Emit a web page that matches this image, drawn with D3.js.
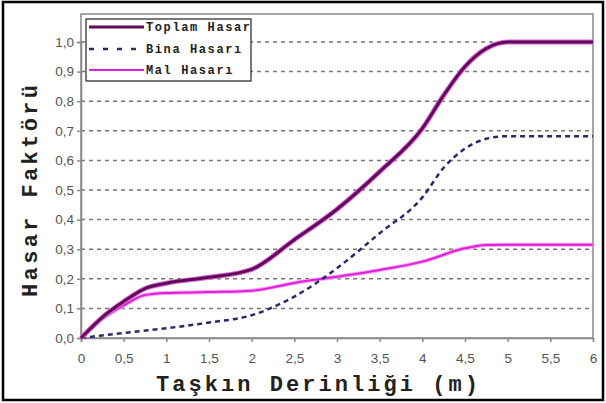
<!DOCTYPE html>
<html><head><meta charset="utf-8">
<script src="https://cdn.jsdelivr.net/npm/d3@7"></script>
<style>body{margin:0;background:#fff}</style>
</head><body>
<svg id="c" width="606" height="403"></svg>
<script>
const seriesNames = ["Toplam Hasar", "Bina Hasarı", "Mal Hasarı"];
const toplamX = [0, 0.25, 0.5, 0.75, 1, 1.5, 2, 2.5, 3, 3.5, 4, 4.25, 4.5, 4.75, 5, 6];
const toplamY = [0, 0.07, 0.123, 0.167, 0.185, 0.205, 0.232, 0.332, 0.435, 0.562, 0.708, 0.82, 0.917, 0.978, 1.0, 1.0];
const binaX = [0, 0.5, 1, 1.5, 2, 2.5, 3, 3.5, 4, 4.25, 4.5, 4.75, 5, 6];
const binaY = [0, 0.017, 0.033, 0.052, 0.077, 0.14, 0.236, 0.354, 0.475, 0.575, 0.64, 0.673, 0.682, 0.682];
const malX = [0, 0.25, 0.5, 0.75, 1, 1.5, 2, 2.5, 3, 3.5, 4, 4.5, 4.75, 5, 6];
const malY = [0, 0.065, 0.11, 0.145, 0.152, 0.155, 0.16, 0.186, 0.207, 0.23, 0.258, 0.303, 0.314, 0.315, 0.315];
const xTicks = [0, 0.5, 1, 1.5, 2, 2.5, 3, 3.5, 4, 4.5, 5, 5.5, 6];
const yTicks = [0, 0.1, 0.2, 0.3, 0.4, 0.5, 0.6, 0.7, 0.8, 0.9, 1.0];
const xTitle = "Taşkın Derinliği (m)";
const yTitle = "Hasar Faktörü";

const svg = d3.select("#c");
const L = 81, R = 593, T = 14, B = 338;
const x = d3.scaleLinear().domain([0, 6]).range([L, R]);
const y = d3.scaleLinear().domain([0, 1]).range([B, B - 296]);
const fmt = d => d3.format(".1f")(d).replace(".", ",");
const fmtX = d => String(d).replace(".", ",");
const mono = "Liberation Mono, Courier New, monospace";

// outer border
svg.append("rect").attr("x", 3).attr("y", 2).attr("width", 600).attr("height", 398)
  .attr("fill", "#fff").attr("stroke", "#000").attr("stroke-width", 2.5);

// plot frame
svg.append("rect").attr("x", L).attr("y", T).attr("width", R - L).attr("height", B - T)
  .attr("fill", "#fff").attr("stroke", "#888").attr("stroke-width", 1.5);

// gridlines
svg.append("g").selectAll("line").data(yTicks.filter(d => d > 0)).join("line")
  .attr("x1", L).attr("x2", R).attr("y1", d => y(d)).attr("y2", d => y(d))
  .attr("stroke", "#777").attr("stroke-width", 1.5).attr("stroke-dasharray", "4,4");

// axes
const yAxis = svg.append("g").attr("transform", `translate(${L},0)`)
  .call(d3.axisLeft(y).tickValues(yTicks).tickFormat(fmt).tickSize(4).tickPadding(3));
const xAxis = svg.append("g").attr("transform", `translate(0,${B})`)
  .call(d3.axisBottom(x).tickValues(xTicks).tickFormat(fmtX).tickSize(4).tickPadding(11));
[yAxis, xAxis].forEach(g => {
  g.select(".domain").attr("stroke", "#888").attr("stroke-width", 1.5);
  g.selectAll(".tick line").attr("stroke", "#888").attr("stroke-width", 1.5);
  g.selectAll(".tick text").attr("fill", "#555").style("font-family", "Liberation Sans, Arial, sans-serif").style("font-size", "13.5px");
});

// lines
const line = d3.line().x(d => x(d[0])).y(d => y(d[1])).curve(d3.curveMonotoneX);
const toplam = toplamX.map((v, i) => [v, toplamY[i]]);
const bina = binaX.map((v, i) => [v, binaY[i]]);
const mal = malX.map((v, i) => [v, malY[i]]);

svg.append("path").datum(mal).attr("d", line).attr("fill", "none")
  .attr("stroke", "#f7a0f0").attr("stroke-width", 4);
svg.append("path").datum(mal).attr("d", line).attr("fill", "none")
  .attr("stroke", "#e020d8").attr("stroke-width", 2);
svg.append("path").datum(bina).attr("d", line).attr("fill", "none")
  .attr("stroke", "#2a2a6a").attr("stroke-width", 2.5).attr("stroke-dasharray", "5,4");
svg.append("path").datum(toplam).attr("d", line).attr("fill", "none")
  .attr("stroke", "#e060e0").attr("stroke-width", 5);
svg.append("path").datum(toplam).attr("d", line).attr("fill", "none")
  .attr("stroke", "#5e0c55").attr("stroke-width", 3);

// legend
const lg = svg.append("g");
lg.append("clipPath").attr("id", "lgclip").append("rect")
  .attr("x", 86).attr("y", 19).attr("width", 165).attr("height", 62);
lg.append("rect").attr("x", 86).attr("y", 19).attr("width", 165).attr("height", 62)
  .attr("fill", "#fff").attr("stroke", "#222").attr("stroke-width", 1.2);
const legY = [27, 49, 70];
const legStyles = [
  {c: "#5e0c55", w: 3, d: null},
  {c: "#2a2a6a", w: 2.5, d: "5,9"},
  {c: "#e020d8", w: 2, d: null}
];
seriesNames.forEach((n, i) => {
  lg.append("line").attr("x1", 89).attr("x2", 144).attr("y1", legY[i]).attr("y2", legY[i])
    .attr("stroke", legStyles[i].c).attr("stroke-width", legStyles[i].w)
    .attr("stroke-dasharray", legStyles[i].d);
  lg.append("text").attr("x", 146).attr("y", legY[i] + 4).text(n)
    .attr("clip-path", "url(#lgclip)")
    .style("font-family", mono).style("font-weight", "bold").style("font-size", "12px")
    .style("letter-spacing", "1.6px").attr("fill", "#222");
});

// titles
svg.append("text").attr("x", 317).attr("y", 391).attr("text-anchor", "middle").text(xTitle)
  .attr("textLength", 322).attr("lengthAdjust", "spacing")
  .style("font-family", mono).style("font-weight", "bold")
  .style("font-size", "22px").attr("fill", "#222");
svg.append("text").attr("transform", "translate(37,191) rotate(-90)").attr("text-anchor", "middle").text(yTitle)
  .attr("textLength", 212).attr("lengthAdjust", "spacing")
  .style("font-family", mono).style("font-weight", "bold")
  .style("font-size", "22px").attr("fill", "#222");
</script>
</body></html>
